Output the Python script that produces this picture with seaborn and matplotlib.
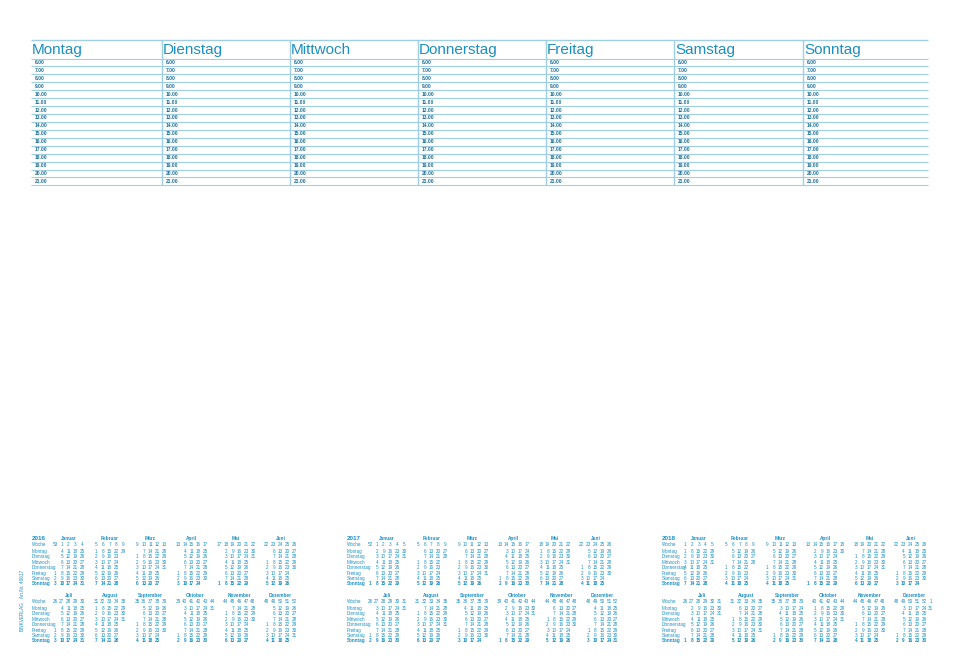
import datetime as dt
import matplotlib
matplotlib.use("Agg")
import matplotlib.pyplot as plt
import seaborn as sns

sns.set_theme(style="white")
plt.rcParams['font.family'] = ['Liberation Sans', 'DejaVu Sans']

days = ["Montag", "Dienstag", "Mittwoch", "Donnerstag", "Freitag", "Samstag", "Sonntag"]
hours = ["%d.00" % h for h in range(6, 22)]
col_x = [31, 162, 290, 418, 546, 674, 803, 928]
years = [2016, 2017, 2018]
block_x = [32, 347, 662]
months = ["Januar", "Februar", "März", "April", "Mai", "Juni",
          "Juli", "August", "September", "Oktober", "November", "Dezember"]
wd_labels = ["Montag", "Dienstag", "Mittwoch", "Donnerstag", "Freitag", "Samstag", "Sonntag"]

BLUE = "#1b8fc2"
DARK = "#1f6f96"
LINE = "#9fcde3"

fig = plt.figure(figsize=(9.6, 6.72), dpi=100)
ax = fig.add_axes([0, 0, 1, 1])
ax.set_xlim(0, 960)
ax.set_ylim(672, 0)
ax.axis("off")

# planner grid
top, head_bot, row_h = 40, 58.5, 7.93
bottom = head_bot + row_h * len(hours)
ax.hlines(top, col_x[0], col_x[-1], color=LINE, lw=1.0)
for k in range(len(hours) + 1):
    ax.hlines(head_bot + k * row_h, col_x[0], col_x[-1], color=LINE, lw=0.8)
for x in col_x[1:-1]:
    ax.vlines(x, top, bottom, color=LINE, lw=1.0)
for i, d in enumerate(days):
    ax.text(col_x[i] + 1, 54, d, color=BLUE, fontsize=11, va="baseline", ha="left")
    for k, h in enumerate(hours):
        ax.text(col_x[i] + 4, head_bot + (k + 0.5) * row_h + 1.5, h, color=DARK,
                fontsize=3.6, va="baseline", ha="left", fontweight="bold")

# year calendars
def month_grid(year, month):
    d = dt.date(year, month, 1)
    cells = []
    while d.month == month:
        cells.append((d.isocalendar()[1], d.weekday(), d.day))
        d += dt.timedelta(days=1)
    weeks = []
    for w, _, _ in cells:
        if w not in weeks:
            weeks.append(w)
    return weeks, cells

CW = 6.8
STEP = 5.4
for yi, year in enumerate(years):
    bx = block_x[yi]
    ax.text(bx, 540, str(year), color=BLUE, fontsize=4.5, fontweight="bold", va="baseline")
    for half in range(2):
        y0 = 540 + half * 57
        ax.text(bx, y0 + 6, "Woche", color=BLUE, fontsize=3.3, va="baseline")
        for r, lab in enumerate(wd_labels):
            ax.text(bx, y0 + 13 + r * STEP, lab, color=BLUE, fontsize=3.3, va="baseline",
                    fontweight="bold" if r == 6 else "normal")
        mx = bx + 23
        for m in range(6):
            mon = half * 6 + m + 1
            weeks, cells = month_grid(year, mon)
            ax.text(mx + CW * (len(weeks) - 1) / 2, y0, months[mon - 1], color=BLUE,
                    fontsize=3.4, fontweight="bold", ha="center", va="baseline")
            for j, w in enumerate(weeks):
                ax.text(mx + CW * j, y0 + 6, str(w), color=BLUE, fontsize=3.3,
                        ha="center", va="baseline")
            for w, wd, day in cells:
                j = weeks.index(w)
                ax.text(mx + CW * j, y0 + 13 + wd * STEP, str(day), color=BLUE,
                        fontsize=3.3, ha="center", va="baseline",
                        fontweight="bold" if wd == 6 else "normal")
            mx += CW * len(weeks) + 7

ax.text(23, 600, "BNKVERLAG   Art.Nr. 46617", color=BLUE, fontsize=3.4,
        rotation=90, ha="center", va="center")

fig.savefig("out.png", dpi=100, facecolor="white")
